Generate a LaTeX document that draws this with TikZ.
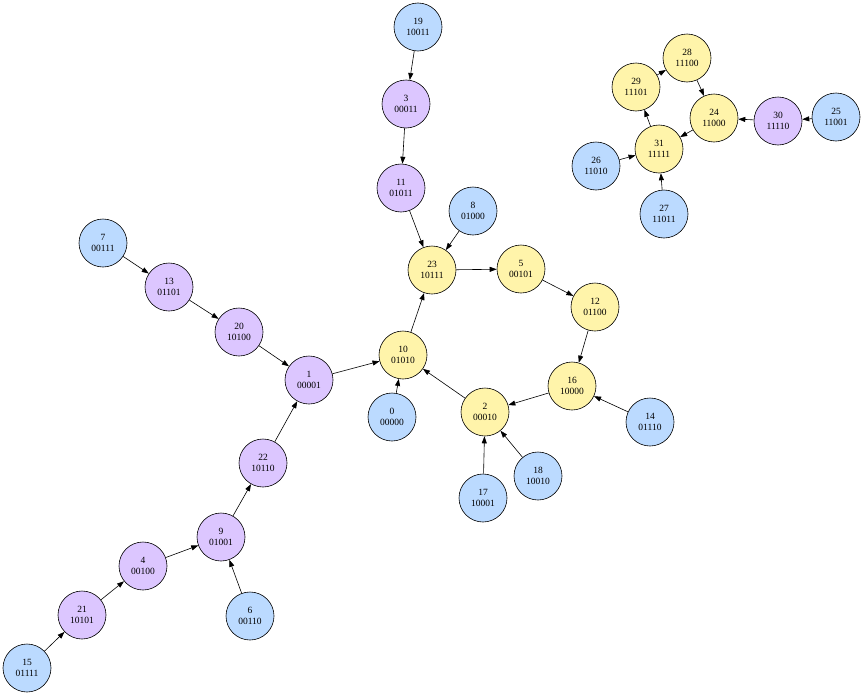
\documentclass[tikz,border=0pt]{standalone}
\usepackage{fontspec}
\setmainfont{Liberation Serif}
\usetikzlibrary{arrows.meta}
\definecolor{leafblue}{HTML}{BBDAFF}
\definecolor{treepurple}{HTML}{DCC6FF}
\definecolor{cycleyellow}{HTML}{FFF4AA}

\begin{document}
\begin{tikzpicture}[x=1pt,y=-1pt,line width=0.6pt,>={Triangle[length=7pt,width=5pt]},
  every node/.style={draw=black,circle,minimum size=48pt,inner sep=0pt,align=center,font=\fontsize{9.5}{11}\selectfont},
  leafnode/.style={fill=leafblue},
  treenode/.style={fill=treepurple},
  cyclenode/.style={fill=cycleyellow}]
\useasboundingbox (0,0) rectangle (864,696);
% main component
\node[leafnode] (n19) at (418, 27) {19\\10011};
\node[treenode] (n3) at (406, 104) {3\\00011};
\node[treenode] (n11) at (401, 188) {11\\01011};
\node[leafnode] (n8) at (473, 211) {8\\01000};
\node[cyclenode] (n23) at (432, 270) {23\\10111};
\node[cyclenode] (n5) at (521, 269) {5\\00101};
\node[cyclenode] (n12) at (595, 307) {12\\01100};
\node[cyclenode] (n10) at (403, 355) {10\\01010};
\node[treenode] (n1) at (309, 380) {1\\00001};
\node[leafnode] (n0) at (392, 417) {0\\00000};
\node[cyclenode] (n2) at (485, 412) {2\\00010};
\node[cyclenode] (n16) at (572, 386) {16\\10000};
\node[leafnode] (n14) at (650, 422) {14\\01110};
\node[leafnode] (n17) at (483, 498) {17\\10001};
\node[leafnode] (n18) at (538, 476) {18\\10010};
\node[treenode] (n20) at (239, 332) {20\\10100};
\node[treenode] (n13) at (169, 287) {13\\01101};
\node[leafnode] (n7) at (103, 243) {7\\00111};
\node[treenode] (n22) at (263, 463) {22\\10110};
\node[treenode] (n9) at (221, 537) {9\\01001};
\node[treenode] (n4) at (143, 566) {4\\00100};
\node[leafnode] (n6) at (250, 616) {6\\00110};
\node[treenode] (n21) at (82, 615) {21\\10101};
\node[leafnode] (n15) at (27, 668) {15\\01111};
% small component
\node[cyclenode] (n28) at (687, 58) {28\\11100};
\node[cyclenode] (n29) at (636, 87) {29\\11101};
\node[cyclenode] (n24) at (714, 118) {24\\11000};
\node[treenode] (n30) at (778, 121) {30\\11110};
\node[leafnode] (n25) at (836, 117) {25\\11001};
\node[cyclenode] (n31) at (659, 149) {31\\11111};
\node[leafnode] (n26) at (596, 166) {26\\11010};
\node[leafnode] (n27) at (664, 214) {27\\11011};
\draw [->] (n19) to (n3);
\draw [->] (n3) to (n11);
\draw [->] (n11) to (n23);
\draw [->] (n8) to (n23);
\draw [->] (n23) to (n5);
\draw [->] (n5) to (n12);
\draw [->] (n12) to (n16);
\draw [->] (n16) to (n2);
\draw [->] (n14) to (n16);
\draw [->] (n17) to (n2);
\draw [->] (n18) to (n2);
\draw [->] (n2) to (n10);
\draw [->] (n0) to (n10);
\draw [->] (n10) to (n23);
\draw [->] (n1) to (n10);
\draw [->] (n20) to (n1);
\draw [->] (n13) to (n20);
\draw [->] (n7) to (n13);
\draw [->] (n22) to (n1);
\draw [->] (n9) to (n22);
\draw [->] (n4) to (n9);
\draw [->] (n6) to (n9);
\draw [->] (n21) to (n4);
\draw [->] (n15) to (n21);
\draw [->] (n29) to (n28);
\draw [->] (n28) to (n24);
\draw [->] (n24) to (n31);
\draw [->] (n31) to (n29);
\draw [->] (n30) to (n24);
\draw [->] (n25) to (n30);
\draw [->] (n26) to (n31);
\draw [->] (n27) to (n31);
\end{tikzpicture}
\end{document}
